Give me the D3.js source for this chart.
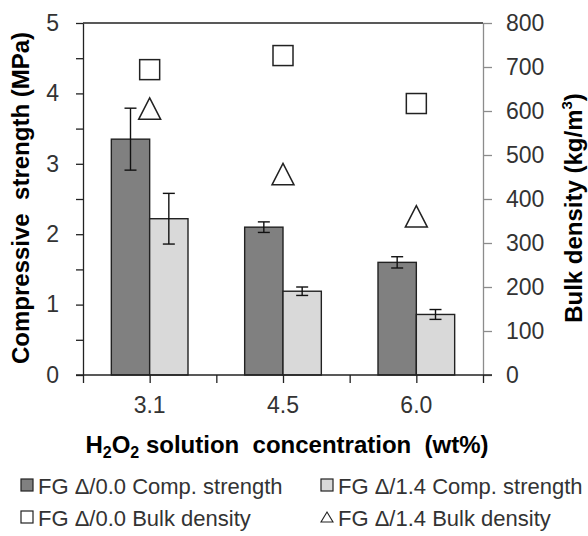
<!DOCTYPE html>
<html><head><meta charset="utf-8">
<script src="https://cdn.jsdelivr.net/npm/d3@7"></script>
<style>
html,body{margin:0;padding:0;background:#fff;}
svg{display:block;font-family:Arial,"Liberation Sans",sans-serif;}
</style></head>
<body><svg id="c" width="588" height="536"></svg>
<script>
const categories = ["3.1","4.5","6.0"];
const strength00 = [3.35, 2.10, 1.60];
const strength00Err = [0.44, 0.075, 0.08];
const strength14 = [2.22, 1.19, 0.86];
const strength14Err = [0.36, 0.06, 0.07];
const density00 = [694, 726, 617];
const density14 = [605, 456, 360];
const leftTicks = [0,1,2,3,4,5];
const rightTicks = [0,100,200,300,400,500,600,700,800];
const legendLabels = ["FG \u0394/0.0 Comp. strength","FG \u0394/1.4 Comp. strength","FG \u0394/0.0 Bulk density","FG \u0394/1.4 Bulk density"];

const svg = d3.select("#c");
const L=83, R=483, T=23, B=375;
const x = d3.scaleBand().domain(categories).range([L,R]).padding(0);
const xs = d3.scaleBand().domain(["a","b"]).range([x.bandwidth()*0.2125, x.bandwidth()*0.7875]);
const yL = d3.scaleLinear().domain([0,5]).range([B,T]);
const yR = d3.scaleLinear().domain([0,800]).range([B,T]);
const xt = d3.scaleLinear().domain([0,3]).range([L,R]);

const dark="#222";
svg.append("line").attr("x1",L).attr("x2",R).attr("y1",T).attr("y2",T).attr("stroke",dark).attr("stroke-width",1.3);

const series = [
  {key:"a", v:strength00, e:strength00Err, fill:"#808080"},
  {key:"b", v:strength14, e:strength14Err, fill:"#d9d9d9"}
];
series.forEach(s=>{
  svg.append("g").selectAll("rect").data(categories).join("rect")
    .attr("x",(c)=>x(c)+xs(s.key)).attr("width",xs.bandwidth())
    .attr("y",(c,i)=>yL(s.v[i])).attr("height",(c,i)=>yL(0)-yL(s.v[i]))
    .attr("fill",s.fill).attr("stroke",dark).attr("stroke-width",1.4);
});
series.forEach(s=>{
  const g = svg.append("g").attr("stroke","#111").attr("stroke-width",1.4);
  categories.forEach((c,i)=>{
    const cx = x(c)+xs(s.key)+xs.bandwidth()/2;
    const y1=yL(s.v[i]+s.e[i]), y2=yL(s.v[i]-s.e[i]);
    g.append("line").attr("x1",cx).attr("x2",cx).attr("y1",y1).attr("y2",y2);
    g.append("line").attr("x1",cx-6).attr("x2",cx+6).attr("y1",y1).attr("y2",y1);
    g.append("line").attr("x1",cx-6).attr("x2",cx+6).attr("y1",y2).attr("y2",y2);
  });
});

const mx = c=>x(c)+x.bandwidth()/2;
svg.append("g").selectAll("rect").data(categories).join("rect")
  .attr("x",c=>mx(c)-10).attr("y",(c,i)=>yR(density00[i])-10)
  .attr("width",20).attr("height",20).attr("fill","#fff").attr("stroke",dark).attr("stroke-width",1.5);
svg.append("g").selectAll("path").data(categories).join("path")
  .attr("d",(c,i)=>{const cx=mx(c), cy=yR(density14[i]); return `M${cx},${cy-11}L${cx+11},${cy+10.5}L${cx-11},${cy+10.5}Z`;})
  .attr("fill","#fff").attr("stroke",dark).attr("stroke-width",1.5);

const gl = svg.append("g").attr("transform",`translate(${L},0)`)
  .call(d3.axisLeft(yL).tickValues(leftTicks).tickFormat(d3.format("d")).tickSize(7).tickPadding(17).tickSizeOuter(0));
gl.select(".domain").attr("stroke",dark).attr("stroke-width",1.3);
gl.selectAll(".tick line").attr("stroke",dark).attr("stroke-width",1.3);
gl.selectAll("text").attr("font-size",23).attr("fill","#333").attr("font-family","Arial,'Liberation Sans',sans-serif");
const glm = svg.append("g").attr("transform",`translate(${L},0)`)
  .call(d3.axisLeft(yL).tickValues([0.5,1.5,2.5,3.5,4.5]).tickSize(7).tickFormat(""));
glm.select(".domain").remove();
glm.selectAll(".tick line").attr("stroke",dark).attr("stroke-width",1.3);

const gr = svg.append("g").attr("transform",`translate(${R},0)`)
  .call(d3.axisRight(yR).tickValues(rightTicks).tickFormat(d3.format("d")).tickSize(9).tickPadding(14).tickSizeOuter(0));
gr.select(".domain").attr("stroke","#8c8c8c").attr("stroke-width",1.3);
gr.selectAll(".tick line").attr("stroke","#8c8c8c").attr("stroke-width",1.3);
gr.selectAll("text").attr("font-size",23).attr("fill","#333").attr("font-family","Arial,'Liberation Sans',sans-serif");

const gb = svg.append("g").attr("transform",`translate(0,${B})`)
  .call(d3.axisBottom(xt).tickValues([0,0.5,1,1.5,2,2.5,3]).tickSize(8).tickFormat("").tickSizeOuter(0));
gb.select(".domain").attr("stroke",dark).attr("stroke-width",1.3).attr("d",`M${L-7},0H${R+9}`);
gb.selectAll(".tick line").attr("stroke",dark).attr("stroke-width",1.3);
const gbl = svg.append("g").attr("transform",`translate(0,${B})`)
  .call(d3.axisBottom(x).tickSize(0).tickPadding(22));
gbl.select(".domain").remove();
gbl.selectAll("text").attr("font-size",23).attr("fill","#333").attr("font-family","Arial,'Liberation Sans',sans-serif");

svg.append("text").attr("transform",`translate(29,198) rotate(-90)`).attr("text-anchor","middle")
  .attr("font-size",24).attr("font-weight","bold").attr("fill","#000").style("white-space","pre")
  .text("Compressive  strength (MPa)");
const rt = svg.append("text").attr("transform",`translate(582,208) rotate(-90)`).attr("text-anchor","middle")
  .attr("font-size",24).attr("font-weight","bold").attr("fill","#000");
rt.append("tspan").text("Bulk density (kg/m");
rt.append("tspan").attr("font-size",15).attr("dy",-10).text("3");
rt.append("tspan").attr("dy",10).text(")");

const xtitle = svg.append("text").attr("x",287).attr("y",453).attr("text-anchor","middle")
  .attr("font-size",24).attr("font-weight","bold").attr("fill","#000").style("white-space","pre");
xtitle.append("tspan").text("H");
xtitle.append("tspan").attr("font-size",16).attr("dy",5).text("2");
xtitle.append("tspan").attr("dy",-5).text("O");
xtitle.append("tspan").attr("font-size",16).attr("dy",5).text("2");
xtitle.append("tspan").attr("dy",-5).text(" solution  concentration  (wt%)");

const lg = svg.append("g").attr("font-size",22).attr("fill","#333");
const legPos = [[21,494],[321,494],[21,526],[321,526]];
legendLabels.forEach((t,i)=>{
  const [lx,ly]=legPos[i];
  lg.append("text").attr("x",lx+17).attr("y",ly).text(t);
});
lg.append("rect").attr("x",legPos[0][0]).attr("y",legPos[0][1]-15).attr("width",12).attr("height",12).attr("fill","#808080").attr("stroke",dark).attr("stroke-width",1.2);
lg.append("rect").attr("x",legPos[1][0]).attr("y",legPos[1][1]-15).attr("width",12).attr("height",12).attr("fill","#d9d9d9").attr("stroke",dark).attr("stroke-width",1.2);
lg.append("rect").attr("x",legPos[2][0]).attr("y",legPos[2][1]-15).attr("width",12).attr("height",12).attr("fill","#fff").attr("stroke",dark).attr("stroke-width",1.2);
lg.append("path").attr("d",`M${legPos[3][0]+6},${legPos[3][1]-14}L${legPos[3][0]+12},${legPos[3][1]-4}L${legPos[3][0]},${legPos[3][1]-4}Z`)
  .attr("fill","#fff").attr("stroke",dark).attr("stroke-width",1.1);
</script></body></html>
